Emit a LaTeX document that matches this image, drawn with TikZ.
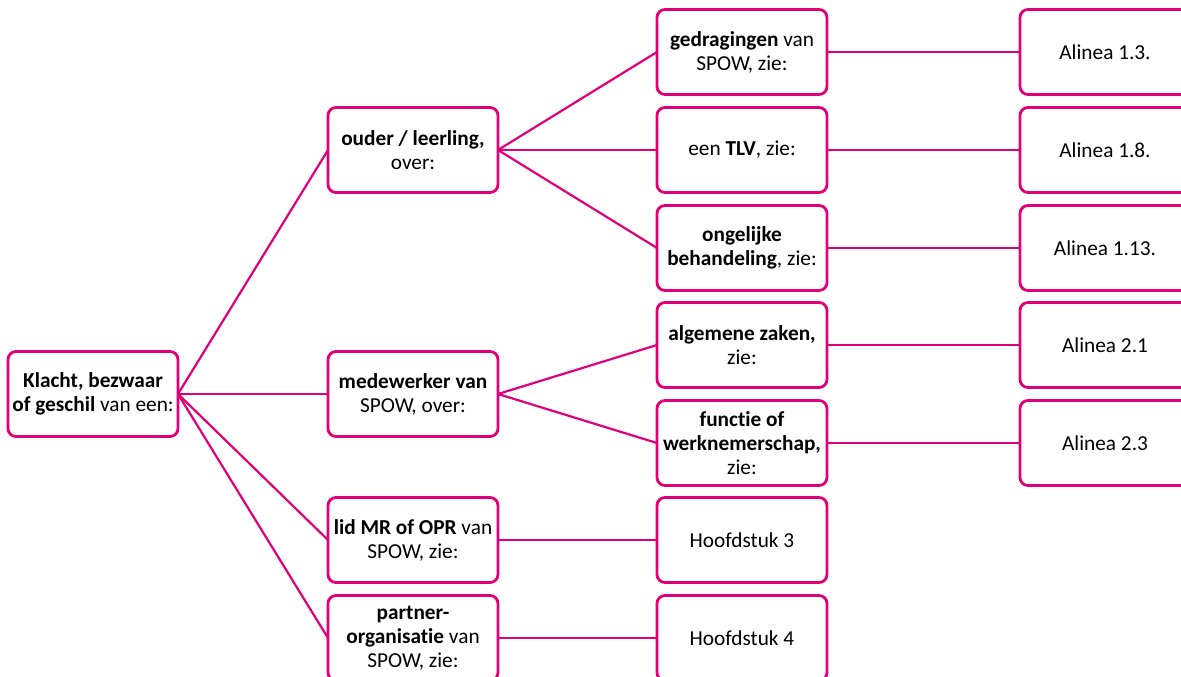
\documentclass[tikz,border=0pt]{standalone}
\usepackage{fontspec}
\setmainfont{Carlito}[Ligatures=NoCommon]
\definecolor{spowpink}{RGB}{226,0,122}
\tikzset{
  box/.style={draw=spowpink, line width=2.8pt, rounded corners=8pt, fill=white,
    minimum width=170pt, minimum height=85pt, align=center,
    font=\fontsize{21.3}{24}\selectfont},
  link/.style={draw=spowpink, line width=2.2pt}
}
\begin{document}
\begin{tikzpicture}[x=1pt, y=1pt, yscale=-1, inner sep=0pt, outer sep=0pt]
\useasboundingbox (0,0) rectangle (1181,677);
% root
\node[box] (klacht) at (93,394) {\textbf{Klacht, bezwaar}\\\textbf{of geschil} van een:};
% first level
\node[box] (ouder) at (413,150) {\textbf{ouder / leerling,}\\over:};
\node[box] (medewerker) at (413,394) {\textbf{medewerker van}\\SPOW, over:};
\node[box] (lidmr) at (413,540) {\textbf{lid MR of OPR} van\\SPOW, zie:};
\node[box] (partner) at (413,638) {\textbf{partner-}\\\textbf{organisatie} van\\SPOW, zie:};
% second level
\node[box] (gedrag) at (742,52) {\textbf{gedragingen} van\\SPOW, zie:};
\node[box] (tlv) at (742,150) {een \textbf{TLV}, zie:};
\node[box] (ongelijk) at (742,248) {\textbf{ongelijke}\\\textbf{behandeling}, zie:};
\node[box] (algemeen) at (742,345) {\textbf{algemene zaken,}\\zie:};
\node[box] (functie) at (742,443) {\textbf{functie of}\\\textbf{werknemerschap,}\\zie:};
\node[box] (hfst3) at (742,540) {Hoofdstuk 3};
\node[box] (hfst4) at (742,638) {Hoofdstuk 4};
% third level
\node[box] (al13) at (1105,52) {Alinea 1.3.};
\node[box] (al18) at (1105,150) {Alinea 1.8.};
\node[box] (al113) at (1105,248) {Alinea 1.13.};
\node[box] (al21) at (1105,345) {Alinea 2.1};
\node[box] (al23) at (1105,443) {Alinea 2.3};
% connectors
\draw[link] (klacht.east) -- (ouder.west);
\draw[link] (klacht.east) -- (medewerker.west);
\draw[link] (klacht.east) -- (lidmr.west);
\draw[link] (klacht.east) -- (partner.west);
\draw[link] (ouder.east) -- (gedrag.west);
\draw[link] (ouder.east) -- (tlv.west);
\draw[link] (ouder.east) -- (ongelijk.west);
\draw[link] (medewerker.east) -- (algemeen.west);
\draw[link] (medewerker.east) -- (functie.west);
\draw[link] (lidmr.east) -- (hfst3.west);
\draw[link] (partner.east) -- (hfst4.west);
\draw[link] (gedrag.east) -- (al13.west);
\draw[link] (tlv.east) -- (al18.west);
\draw[link] (ongelijk.east) -- (al113.west);
\draw[link] (algemeen.east) -- (al21.west);
\draw[link] (functie.east) -- (al23.west);
\end{tikzpicture}
\end{document}
